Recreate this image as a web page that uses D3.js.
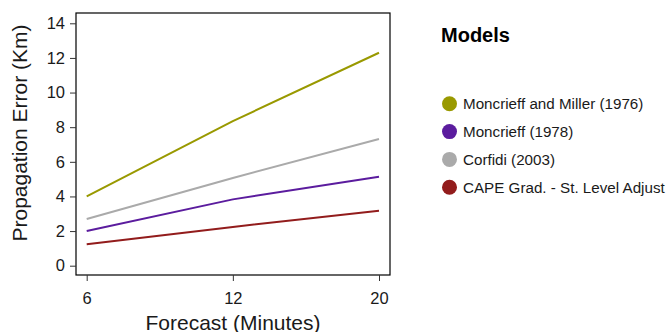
<!DOCTYPE html>
<html><head><meta charset="utf-8">
<script src="https://cdn.jsdelivr.net/npm/d3@7"></script>
<style>body{margin:0;background:#fff}svg{display:block;font-family:"Liberation Sans",Arial,sans-serif}</style>
</head><body><svg id="c" width="672" height="332"></svg>
<script>
const categories = ["6", "12", "20"];
const seriesNames = ["Moncrieff and Miller (1976)", "Moncrieff (1978)", "Corfidi (2003)", "CAPE Grad. - St. Level Adjust"];
const seriesColors = ["#999900", "#5b1c9e", "#aaaaaa", "#921c1c"];
const mm1976 = [4.0, 8.35, 12.3];
const m1978 = [2.0, 3.83, 5.14];
const corfidi = [2.7, 5.07, 7.32];
const cape = [1.24, 2.24, 3.18];
const yTicks = [0, 2, 4, 6, 8, 10, 12, 14];
const seriesValues = [mm1976, m1978, corfidi, cape];
const drawOrder = [0, 2, 1, 3];

const svg = d3.select("#c");
const box = {l: 76, t: 13, r: 390, b: 275};
const x = d3.scalePoint().domain(categories).range([86.7, 379]);
const y = d3.scaleLinear().domain([0, 14]).range([265.7, 23.3]);

svg.append("rect").attr("x", box.l).attr("y", box.t).attr("width", box.r - box.l).attr("height", box.b - box.t)
  .attr("fill", "none").attr("stroke", "#000").attr("stroke-width", 1.2);

const ya = svg.append("g").attr("transform", `translate(${box.l},0)`)
  .call(d3.axisLeft(y).tickValues(yTicks).tickSize(6).tickPadding(5).tickSizeOuter(0));
ya.select(".domain").remove();
ya.selectAll("text").attr("font-size", 16.5).attr("fill", "#1a1a1a").attr("font-family", "Liberation Sans, Arial, sans-serif");
ya.selectAll("line").attr("stroke", "#333");

const xa = svg.append("g").attr("transform", `translate(0,${box.b})`)
  .call(d3.axisBottom(x).tickSize(6).tickPadding(11).tickSizeOuter(0));
xa.select(".domain").remove();
xa.selectAll("text").attr("font-size", 16.5).attr("fill", "#1a1a1a").attr("font-family", "Liberation Sans, Arial, sans-serif");
xa.selectAll("line").attr("stroke", "#333");

const line = d3.line().x((d, i) => x(categories[i])).y(d => y(d));
drawOrder.forEach(k => {
  svg.append("path").datum(seriesValues[k]).attr("d", line)
    .attr("fill", "none").attr("stroke", seriesColors[k]).attr("stroke-width", 2);
});

svg.append("text").attr("transform", "translate(27,133) rotate(-90)").attr("text-anchor", "middle")
  .attr("font-size", 21).attr("fill", "#1a1a1a").text("Propagation Error (Km)");
svg.append("text").attr("x", 233).attr("y", 330).attr("text-anchor", "middle")
  .attr("font-size", 21).attr("fill", "#1a1a1a").text("Forecast (Minutes)");

svg.append("text").attr("x", 441).attr("y", 42).attr("font-size", 20).attr("font-weight", "bold")
  .attr("fill", "#000").text("Models");
const lg = svg.append("g");
seriesNames.forEach((n, i) => {
  const cy = 103.8 + i * 27.8;
  lg.append("circle").attr("cx", 449.5).attr("cy", cy).attr("r", 7.5).attr("fill", seriesColors[i]);
  lg.append("text").attr("x", 463).attr("y", cy + 5.5).attr("font-size", 15.2).attr("fill", "#1a1a1a").text(n);
});
</script></body></html>
